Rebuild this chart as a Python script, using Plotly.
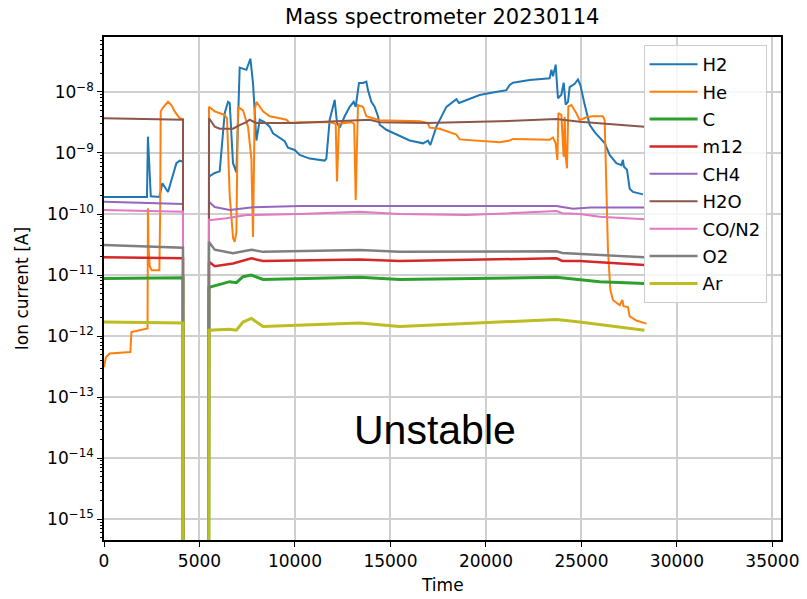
import plotly.graph_objects as go

# ---- data (time [s], ion current [A]) ----
H2_t = [0, 2250, 2300, 2400, 2450, 2900, 3057, 3351, 3791, 3964, 4105, 4136, 4140, 5480, 5498, 5797, 6058, 6320, 6493, 6582,
        6755, 6932, 7105, 7456, 7666, 7802, 7980, 8153, 8410, 8676, 8849, 9200, 9462, 9634, 9985, 10247, 10771, 11556, 11644,
        11818, 12080, 12200, 12341, 12603, 12865, 13074, 13180, 13352, 13562, 13739, 13823, 14001, 14174, 14347, 14436, 14786,
        15310, 16006, 16703, 16965, 17090, 17405, 17928, 18452, 18588, 18975, 19671, 20368, 20719, 21070, 21243, 21415, 22290,
        23337, 23426, 23510, 23651, 23771, 23949, 24070, 24175, 24296, 24384, 24646, 24819, 24944, 25169, 25431, 25693, 26044,
        26216, 26478, 26829, 27090, 27175, 27220, 27385, 27526, 27698, 28222]
H2_v = [1.9e-10, 1.9e-10, 1.85e-9, 3.0e-10, 1.95e-10, 1.9e-10, 3.2e-10, 2.3e-10, 6.8e-10, 7.5e-10, 7.2e-10, 7.2e-10, 1e-17,
        1e-17, 4.1e-10, 4.7e-10, 5.0e-10, 4.5e-9, 6.9e-9, 6.6e-9, 6.8e-10, 4.8e-10, 2.5e-8, 2.3e-8, 3.5e-8, 1.4e-8, 1.6e-9,
        3.5e-9, 3.2e-9, 2.7e-9, 2.1e-9, 1.8e-9, 1.56e-9, 1.22e-9, 1.12e-9, 9.3e-10, 8.1e-10, 7.5e-10, 8.1e-10, 3.5e-9, 7.4e-9,
        3.1e-9, 2.6e-9, 4.0e-9, 5.7e-9, 6.9e-9, 5.7e-9, 1.4e-8, 1.4e-8, 1.48e-8, 1.07e-8, 6.9e-9, 5.7e-9, 4.0e-9, 2.9e-9,
        2.4e-9, 2.0e-9, 1.6e-9, 1.44e-9, 1.6e-9, 1.35e-9, 2.7e-9, 5.7e-9, 7.6e-9, 6.6e-9, 7.4e-9, 8.9e-9, 9.8e-9, 1.02e-8,
        1.07e-8, 1.3e-8, 1.42e-8, 1.57e-8, 1.67e-8, 2.3e-8, 1.8e-8, 2.8e-8, 7.9e-9, 9.0e-9, 1.42e-8, 6.2e-9, 6.9e-9, 1.2e-8,
        1.36e-8, 1.6e-8, 1.3e-8, 6.2e-9, 2.9e-9, 2.2e-9, 1.7e-9, 1.45e-9, 9.3e-10, 6.8e-10, 6.3e-10, 7.7e-10, 6.0e-10, 5.3e-10,
        2.6e-10, 2.3e-10, 2.1e-10]

He_t = [0, 100, 300, 1380, 1435, 2280, 2300, 2330, 2393, 2500, 2900, 2940, 2969, 3060, 3351, 3529, 3702, 3964, 4136, 4140,
        5480, 5498, 5797, 6320, 6440, 6582, 6760, 6844, 6932, 7016, 7278, 7540, 7718, 7802, 7891, 7980, 8325, 8676, 9200,
        9551, 9723, 10247, 11818, 12132, 12200, 12305, 12954, 13100, 13179, 13299, 13562, 13739, 14085, 14436, 16530, 16949,
        17054, 17577, 18452, 18624, 20719, 21243, 21415, 23337, 23510, 23651, 23740, 23792, 23949, 24070, 24122, 24175, 24243,
        24316, 24473, 24734, 24908, 25258, 25604, 26127, 26216, 26305, 26389, 26515, 26651, 27002, 27143, 27200, 27437, 27526,
        27876, 28400]
He_v = [3.1e-13, 4.5e-13, 5.2e-13, 5.5e-13, 1.17e-12, 1.34e-12, 1.24e-10, 3e-11, 1.4e-11, 1.2e-11, 1.2e-11, 1e-10, 4.8e-9,
        5.4e-9, 6.9e-9, 6.1e-9, 4.8e-9, 3.7e-9, 3.6e-9, 1e-17, 1e-17, 5.7e-9, 4.8e-9, 4.2e-9, 3.7e-9, 2e-10, 4e-11, 3.5e-11,
        5e-11, 5.7e-9, 5.0e-9, 2.7e-9, 8e-10, 4.2e-11, 5e-9, 6.9e-9, 4.8e-9, 4.0e-9, 3.7e-9, 3.5e-9, 3.1e-9, 3.2e-9, 3.2e-9,
        3.0e-9, 3.4e-10, 3.0e-9, 3.2e-9, 3e-9, 1.7e-10, 6.1e-9, 5.7e-9, 4.0e-9, 3.7e-9, 3.45e-9, 3.3e-9, 3.1e-9, 2.6e-9,
        2.5e-9, 2.0e-9, 1.67e-9, 1.5e-9, 1.6e-9, 1.7e-9, 1.65e-9, 1.8e-9, 1.44e-9, 7.7e-10, 4.5e-9, 4.2e-9, 8.7e-10, 3.9e-9,
        8.7e-10, 5.6e-10, 5.8e-9, 6.1e-9, 4.5e-9, 3.45e-9, 3.85e-9, 4.0e-9, 4.0e-9, 3.45e-9, 1.7e-10, 2.6e-11, 5.7e-12,
        3.9e-12, 3.2e-12, 3.9e-12, 3.1e-12, 3.0e-12, 2.1e-12, 1.8e-12, 1.6e-12]

C_t = [0, 4136, 4140, 5480, 5498, 6582, 6932, 7278, 7718, 8325, 13389, 15483, 23688, 25955, 28300]
C_v = [8.8e-12, 9.0e-12, 1e-17, 1e-17, 6.3e-12, 7.8e-12, 7.5e-12, 9.4e-12, 1.0e-11, 8.5e-12, 9.2e-12, 8.5e-12, 9.2e-12,
       7.8e-12, 7.3e-12]

m12_t = [0, 4136, 4140, 5480, 5498, 5797, 6755, 7718, 8325, 13389, 15483, 23688, 24000, 24908, 28300]
m12_v = [1.95e-11, 1.88e-11, 1e-17, 1e-17, 1.65e-11, 1.4e-11, 1.55e-11, 1.88e-11, 1.7e-11, 1.8e-11, 1.7e-11, 1.88e-11,
         1.7e-11, 1.7e-11, 1.46e-11]

CH4_t = [0, 4136, 4140, 5480, 5498, 5797, 6582, 6932, 7802, 10247, 15483, 23688, 24000, 24557, 25500, 28300]
CH4_v = [1.59e-10, 1.46e-10, 1e-17, 1e-17, 1.59e-10, 1.3e-10, 1.16e-10, 1.2e-10, 1.29e-10, 1.35e-10, 1.35e-10, 1.35e-10,
         1.3e-10, 1.22e-10, 1.28e-10, 1.28e-10]

H2O_t = [0, 4136, 4140, 5480, 5498, 5797, 6058, 6755, 7105, 7456, 7629, 7980, 10074, 13912, 14436, 16881, 20719, 23688,
         24908, 28300]
H2O_v = [3.7e-9, 3.5e-9, 1e-17, 1e-17, 3.7e-9, 2.7e-9, 2.5e-9, 2.5e-9, 2.87e-9, 3.2e-9, 3.5e-9, 3.1e-9, 3.1e-9, 3.5e-9,
         3.2e-9, 3.1e-9, 3.3e-9, 3.6e-9, 3.25e-9, 2.7e-9]

CON2_t = [0, 4136, 4140, 5480, 5498, 5535, 6409, 7456, 10247, 13389, 15483, 18975, 23688, 24000, 24908, 25955, 28300]
CON2_v = [1.16e-10, 1.09e-10, 1e-17, 1e-17, 8e-11, 7.9e-11, 8.5e-11, 9.6e-11, 1.0e-10, 1.09e-10, 1.0e-10, 9.6e-11,
          1.12e-10, 1.03e-10, 1.0e-10, 9.0e-11, 8.2e-11]

O2_t = [0, 4136, 4140, 5480, 5498, 5797, 6755, 7718, 8325, 13389, 15483, 23688, 24000, 28300]
O2_v = [3.1e-11, 2.8e-11, 1e-17, 1e-17, 3.5e-11, 2.6e-11, 2.27e-11, 2.6e-11, 2.4e-11, 2.57e-11, 2.4e-11, 2.45e-11, 2.3e-11,
        1.95e-11]

Ar_t = [0, 4136, 4140, 5480, 5498, 6582, 6932, 7278, 7718, 8325, 13389, 15483, 23688, 24908, 28300]
Ar_v = [1.7e-12, 1.64e-12, 1e-17, 1e-17, 1.25e-12, 1.3e-12, 1.25e-12, 1.7e-12, 1.95e-12, 1.44e-12, 1.64e-12, 1.44e-12,
        1.87e-12, 1.7e-12, 1.25e-12]

series_names = ["H2", "He", "C", "m12", "CH4", "H2O", "CO/N2", "O2", "Ar"]
series_t = [H2_t, He_t, C_t, m12_t, CH4_t, H2O_t, CON2_t, O2_t, Ar_t]
series_v = [H2_v, He_v, C_v, m12_v, CH4_v, H2O_v, CON2_v, O2_v, Ar_v]
colors = ["#1f77b4", "#ff7f0e", "#2ca02c", "#d62728", "#9467bd", "#8c564b", "#e377c2", "#7f7f7f", "#bcbd22"]
widths = [2, 2, 3, 2.5, 2, 2, 2, 2.5, 3]

x_ticks = [0, 5000, 10000, 15000, 20000, 25000, 30000, 35000]
y_exps = [-15, -14, -13, -12, -11, -10, -9, -8]

fig = go.Figure()
for name, t, v, c, w in zip(series_names, series_t, series_v, colors, widths):
    fig.add_trace(go.Scatter(x=t, y=v, mode="lines", name=name, legendgroup=name,
                             line=dict(color=c, width=w)))

font = "DejaVu Sans, sans-serif"
minor_vals = [k * 10.0 ** e for e in range(-16, -6) for k in range(2, 10)]

fig.update_layout(
    width=807, height=599,
    margin=dict(l=104, r=26, t=37, b=59),
    paper_bgcolor="white", plot_bgcolor="white",
    font=dict(family=font, size=18, color="black"),
    title=dict(text="Mass spectrometer 20230114", x=0.548, xref="container", xanchor="center",
               y=0.972, yref="container", yanchor="middle", font=dict(size=21, family=font, color="black")),
    showlegend=True,
    legend=dict(x=0.797, y=0.984, xanchor="left", yanchor="top", bgcolor="rgba(255,255,255,0.8)",
                bordercolor="#cccccc", borderwidth=1, font=dict(size=18, family=font, color="black"),
                traceorder="grouped", tracegroupgap=1, itemwidth=48),
    xaxis=dict(range=[0, 35450], tickvals=x_ticks, ticktext=[str(v) for v in x_ticks],
               showgrid=True, gridcolor="#cfcfcf", gridwidth=1.5,
               showline=True, linecolor="black", linewidth=1.5, mirror=True,
               ticks="outside", ticklen=5, tickwidth=1.3, tickcolor="black",
               zeroline=False, tickfont=dict(size=17), automargin=False),
    yaxis=dict(type="log", range=[-15.34, -7.10],
               tickvals=[10.0 ** e for e in y_exps],
               ticktext=["10<sup>\u2212%d</sup>" % (-e) for e in y_exps],
               showgrid=True, gridcolor="#cfcfcf", gridwidth=1.5,
               showline=True, linecolor="black", linewidth=1.5, mirror=True,
               ticks="outside", ticklen=5, tickwidth=1.3, tickcolor="black",
               zeroline=False, tickfont=dict(size=17), automargin=False,
               minor=dict(tickvals=minor_vals, ticks="outside", ticklen=2.5, tickwidth=1, tickcolor="black",
                          showgrid=False)),
    annotations=[
        dict(text="Unstable", x=0.489, y=0.219, xref="paper", yref="paper", showarrow=False,
             xanchor="center", yanchor="middle",
             font=dict(family="Liberation Sans, Arial, sans-serif", size=41, color="black")),
        dict(text="Time", x=0.5, y=-0.0895, xref="paper", yref="paper", showarrow=False,
             xanchor="center", yanchor="middle", font=dict(family=font, size=17, color="black")),
        dict(text="Ion current [A]", x=-0.1216, y=0.5, xref="paper", yref="paper", showarrow=False,
             textangle=-90, xanchor="center", yanchor="middle", font=dict(family=font, size=17, color="black")),
    ],
)

fig.write_html("out.html")
